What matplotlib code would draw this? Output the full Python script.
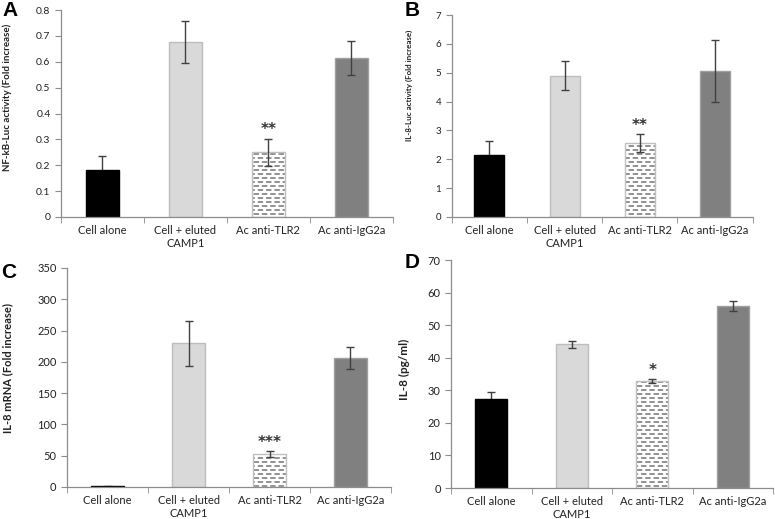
import numpy as np
import matplotlib
matplotlib.use('Agg')
import matplotlib.pyplot as plt
from matplotlib import hatch as mhatch
from matplotlib.path import Path

plt.rcParams['font.family'] = ['Lato', 'DejaVu Sans']
plt.rcParams['hatch.linewidth'] = 0.9

categories = ['Cell alone', 'Cell + eluted\nCAMP1', 'Ac anti-TLR2', 'Ac anti-IgG2a']

# A: NF-kB luciferase
nfkb_mean = [0.18, 0.677, 0.25, 0.615]
nfkb_err = [0.057, 0.08, 0.052, 0.065]
# B: IL-8 luciferase
il8luc_mean = [2.15, 4.9, 2.57, 5.07]
il8luc_err = [0.47, 0.5, 0.31, 1.07]
# C: IL-8 mRNA
mrna_mean = [1, 230, 53, 206]
mrna_err = [0.4, 36, 4.5, 17.5]
# D: IL-8 protein
elisa_mean = [27.3, 44.2, 32.8, 56.0]
elisa_err = [2.1, 1.1, 0.6, 1.6]

stars = ['**', '**', '***', '*']

fills = ['#000000', '#d9d9d9', '#ffffff', '#808080']
edges = ['#000000', '#bdbdbd', '#555555', '#a0a0a0']


class DashedRows(mhatch.HatchPatternBase):
    # excel-like "dashed horizontal" pattern, takes the place of plain '-' lines
    def __init__(self, hatch, density):
        n = hatch.count('-')
        self.rows = n * 25
        self.dashes = 12
        self.num_vertices = self.rows * self.dashes * 2

    def set_vertices_and_codes(self, vertices, codes):
        step = 1.0 / self.dashes
        k = 0
        for r in range(self.rows):
            y = (r + 0.5) / self.rows
            off = 0.5 * step if r % 2 else 0.0
            for d in range(self.dashes):
                x0 = d * step + off
                vertices[k] = (x0, y)
                vertices[k + 1] = (x0 + 0.5 * step, y)
                codes[k] = Path.MOVETO
                codes[k + 1] = Path.LINETO
                k += 2


mhatch._hatch_types = [DashedRows if t is mhatch.HorizontalHatch else t
                       for t in mhatch._hatch_types]

fig = plt.figure(figsize=(7.75, 5.19), dpi=100)
ekw = dict(fmt='none', ecolor='#404040', elinewidth=1, capsize=3, capthick=1)


def panel(rect, means, errs, ymax, ystep, ylabel, lsize, lcoords, star, tsize):
    ax = fig.add_axes(rect)
    x = np.arange(len(categories))
    bars = ax.bar(x, means, width=0.4, color=fills, edgecolor=edges, linewidth=1, zorder=2)
    bars[2].set_hatch('-')
    bars[2].set_linewidth(0)
    # light outline round the hatched bar
    ax.bar(x[2], means[2], width=0.4, fill=False, edgecolor='#c0c0c0', linewidth=1, zorder=2)
    # the black bar hides the lower half of its error bar
    ax.errorbar(x[:1], means[:1], yerr=errs[:1], zorder=1, **ekw)
    ax.errorbar(x[1:], means[1:], yerr=errs[1:], zorder=3, **ekw)
    ax.annotate(star, (x[2], means[2] + errs[2]), xytext=(0, 1), textcoords='offset points',
                ha='center', va='bottom', fontsize=11, fontweight='bold', color='#333333',
                family='DejaVu Sans')
    ax.set_xlim(-0.5, 3.5)
    ax.set_ylim(0, ymax)
    yt = np.arange(0, ymax + ystep / 2, ystep)
    ax.set_yticks(yt)
    ax.set_yticklabels(['{:g}'.format(v) for v in yt])
    ax.set_xticks(x)
    ax.set_xticklabels(categories, fontsize=8, linespacing=1.2)
    ax.set_xticks(np.arange(-0.5, 4, 1), minor=True)
    ax.tick_params(axis='x', which='major', length=0, pad=6, colors='#222222')
    ax.tick_params(axis='x', which='minor', length=4, color='#8c8c8c')
    ax.tick_params(axis='y', length=4, color='#8c8c8c', labelsize=tsize, labelcolor='#222222')
    for s in ['top', 'right']:
        ax.spines[s].set_visible(False)
    for s in ['left', 'bottom']:
        ax.spines[s].set_color('#8c8c8c')
        ax.spines[s].set_linewidth(0.9)
    ax.set_ylabel(ylabel, fontsize=lsize, fontweight='bold', color='#222222')
    ax.yaxis.set_label_coords(*lcoords)
    return ax


panel([0.0787, 0.5819, 0.428, 0.3988], nfkb_mean, nfkb_err, 0.8, 0.1,
      'NF-kB-Luc activity (Fold increase)', 7, (-0.148, 0.58), stars[0], 7.5)
panel([0.583, 0.5819, 0.388, 0.389], il8luc_mean, il8luc_err, 7, 1,
      'IL-8-Luc activity (Fold increase)', 5.8, (-0.13, 0.65), stars[1], 7)
panel([0.0865, 0.0617, 0.418, 0.422], mrna_mean, mrna_err, 350, 50,
      'IL-8 mRNA (Fold increase)', 8, (-0.167, 0.545), stars[2], 8)
panel([0.582, 0.0597, 0.4155, 0.439], elisa_mean, elisa_err, 70, 10,
      'IL-8 (pg/ml)', 8.5, (-0.127, 0.52), stars[3], 8)

for letter, px, py in [('A', 10, 11), ('B', 412, 11), ('C', 9, 272), ('D', 412, 263)]:
    fig.text(px / 775, 1 - py / 519, letter, fontsize=15, fontweight='bold',
             family='Liberation Sans', ha='center', va='center')

fig.savefig('out.png', dpi=100)
